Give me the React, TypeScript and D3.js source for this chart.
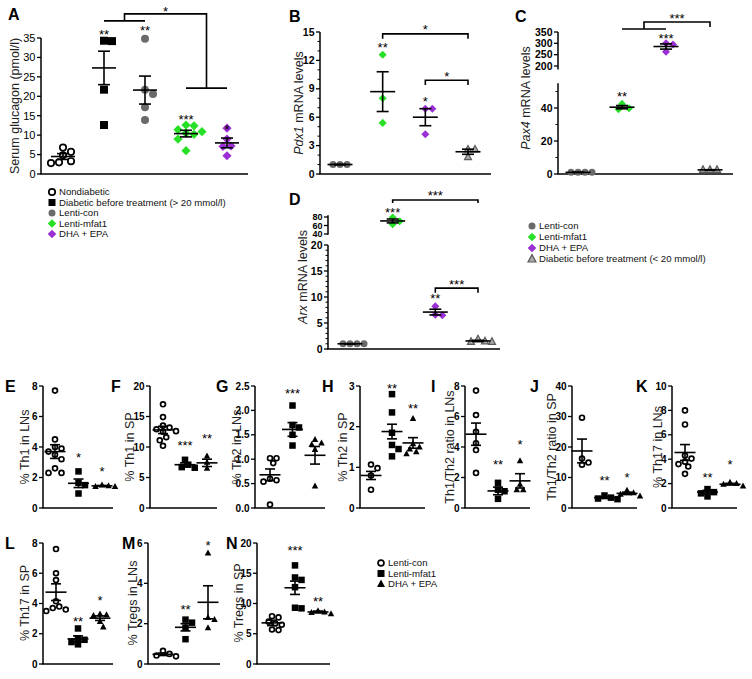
import React from "react";
import * as d3 from "d3";

const FONT = "Arial, 'Liberation Sans', Helvetica, sans-serif";

// ---------------- DATA ----------------
// Panel A
const aGroups = ["Nondiabetic", "Diabetic before treatment (> 20 mmol/l)", "Lenti-con", "Lenti-mfat1", "DHA + EPA"];
const aPoints = [
  [6.8, 5.7, 4.8, 3.0, 2.8, 3.3],
  [34.3, 34.2, 21.7, 12.6],
  [34.8, 21.7, 20.6, 17.2, 13.9],
  [12.6, 12.4, 11.4, 10.9, 10.5, 10.2, 9.0, 6.0],
  [11.8, 9.0, 7.2, 7.1, 4.7],
];
const aMean = [4.5, 27.3, 21.6, 10.4, 8.0];
const aSem = [0.75, 4.3, 3.6, 0.85, 1.25];
const aStars = ["", "**", "**", "***", "*"];
const aStarY = [0, 36.6, 37.6, 14.6, 12.2];
const aTicks = [0, 5, 10, 15, 20, 25, 30, 35];

// Panels B-D
const bdGroups = ["Lenti-con", "Lenti-mfat1", "DHA + EPA", "Diabetic before treatment (< 20 mmol/l)"];
const bPoints = [[1.0, 1.0, 1.0], [12.6, 8.0, 5.4], [6.9, 6.9, 4.2], [2.6, 2.6, 1.8]];
const bMean = [1.0, 8.7, 6.0, 2.35];
const bSem = [0.03, 2.1, 0.9, 0.27];
const bStars = ["", "**", "*", ""];
const bStarY = [0, 13.6, 7.9, 0];
const bTicks = [0, 3, 6, 9, 12, 15];

const cPoints = [[1.0, 1.0, 1.0, 1.0], [42.5, 39.8, 39.2], [300, 295, 263], [2.6, 2.6, 2.6]];
const cMean = [1.0, 40.5, 286, 2.5];
const cSem = [0.1, 1.0, 11.5, 0.1];
const cStars = ["", "**", "***", ""];
const cStarY = [0, 48.4, 333, 0];
const cTicks = [0, 20, 40, 200, 250, 300, 350];

const dPoints = [[1.0, 1.0, 1.0, 1.0], [79, 70, 63], [8.2, 6.6, 6.5], [1.9, 1.4, 1.4, 1.5]];
const dMean = [1.0, 70.7, 7.1, 1.55];
const dSem = [0.03, 4.6, 0.55, 0.12];
const dStars = ["", "***", "**", ""];
const dStarY = [0, 97, 10.2, 0];
const dTicks = [0, 5, 10, 15, 20, 40, 60, 80];

// Panels E-N
const rowGroups = ["Lenti-con", "Lenti-mfat1", "DHA + EPA"];
const ePoints = [[7.7, 4.5, 4.0, 3.9, 3.7, 3.5, 3.2, 2.6, 2.3, 2.3], [2.4, 1.65, 1.5, 0.95], [1.5, 1.45, 1.4, 1.4]];
const eMean = [3.7, 1.62, 1.45];
const eSem = [0.45, 0.28, 0.03];
const eStars = ["", "*", "*"];
const eStarY = [0, 3.45, 2.55];

const fPoints = [[17.0, 14.9, 13.5, 13.2, 12.9, 12.6, 12.5, 11.6, 11.1, 10.2], [7.9, 7.1, 6.7, 6.6], [8.5, 7.5, 6.5]];
const fMean = [12.8, 7.1, 7.4];
const fSem = [0.6, 0.3, 0.6];
const fStars = ["", "***", "**"];
const fStarY = [0, 10.6, 11.8];

const gPoints = [[1.02, 1.02, 0.92, 0.6, 0.57, 0.54, 0.07], [2.1, 1.7, 1.65, 1.5, 1.28], [1.4, 1.33, 1.3, 1.2, 0.45]];
const gMean = [0.68, 1.61, 1.08];
const gSem = [0.12, 0.14, 0.18];
const gStars = ["", "***", ""];
const gStarY = [0, 2.4, 0];

const hPoints = [[1.07, 0.98, 0.8, 0.45], [2.8, 2.35, 1.85, 1.55, 1.45, 1.27], [2.2, 1.58, 1.5, 1.45, 1.38, 1.33]];
const hMean = [0.8, 1.88, 1.6];
const hSem = [0.1, 0.18, 0.13];
const hStars = ["", "**", "**"];
const hStarY = [0, 3.0, 2.5];

const iPoints = [[7.7, 6.1, 5.0, 4.25, 3.8, 2.3], [1.65, 1.2, 1.1, 0.6], [3.1, 1.55, 1.2, 1.2]];
const iMean = [4.84, 1.12, 1.78];
const iSem = [0.73, 0.25, 0.47];
const iStars = ["", "**", "*"];
const iStarY = [0, 3.0, 4.3];

const jPoints = [[29.6, 16.2, 14.9, 14.2], [4.1, 3.4, 3.1, 2.9], [5.8, 5.0, 4.5, 3.9]];
const jMean = [18.7, 3.4, 4.8];
const jSem = [3.9, 0.3, 0.4];
const jStars = ["", "**", "*"];
const jStarY = [0, 9.8, 10.9];

const kPoints = [[8.0, 6.85, 4.3, 4.05, 3.8, 3.6, 3.4, 2.8], [1.55, 1.3, 1.2, 0.95], [2.1, 2.0, 1.95, 1.8]];
const kMean = [4.55, 1.3, 1.95];
const kSem = [0.65, 0.15, 0.07];
const kStars = ["", "**", "*"];
const kStarY = [0, 2.74, 3.8];

const lPoints = [[7.6, 6.0, 5.55, 4.15, 3.8, 3.7, 3.6, 3.5], [2.35, 1.7, 1.6, 1.45, 1.3], [3.3, 3.25, 3.2, 2.8, 2.45]];
const lMean = [4.75, 1.66, 3.03];
const lSem = [0.55, 0.2, 0.15];
const lStars = ["", "**", "*"];
const lStarY = [0, 2.96, 4.35];

const mPoints = [[0.65, 0.5, 0.42, 0.38], [2.2, 2.05, 1.8, 1.23], [5.5, 2.3, 2.2, 1.8]];
const mMean = [0.48, 1.82, 3.06];
const mSem = [0.06, 0.18, 0.82];
const mStars = ["", "**", "*"];
const mStarY = [0, 2.84, 5.98];

const nPoints = [[7.9, 7.7, 7.0, 6.7, 6.5, 5.7, 5.6], [16.3, 14.3, 13.9, 12.7, 9.3, 9.2], [8.8, 8.6, 8.5, 8.3]];
const nMean = [6.8, 12.6, 8.6];
const nSem = [0.45, 1.1, 0.15];
const nStars = ["", "***", "**"];
const nStarY = [0, 19.1, 10.7];

// ---------------- HELPERS ----------------
type Shape = "circleOpen" | "circleGray" | "square" | "diamondGreen" | "diamondPurple" | "triangleGray" | "triangle";

const GREEN = "#27e027";
const PURPLE = "#9b2fd3";

function Marker({ shape, x, y, s }: { shape: Shape; x: number; y: number; s: number }) {
  const h = s / 2;
  switch (shape) {
    case "circleOpen":
      return <circle cx={x} cy={y} r={h - 0.8} fill="white" stroke="#000" strokeWidth={1.7} />;
    case "circleGray":
      return <circle cx={x} cy={y} r={h} fill="#6a6a6a" />;
    case "square":
      return <rect x={x - h} y={y - h} width={s} height={s} fill="#000" />;
    case "diamondGreen":
    case "diamondPurple":
      return (
        <path
          d={`M${x},${y - h * 1.15}L${x + h * 1.15},${y}L${x},${y + h * 1.15}L${x - h * 1.15},${y}Z`}
          fill={shape === "diamondGreen" ? GREEN : PURPLE}
        />
      );
    case "triangleGray":
      return (
        <path
          d={`M${x},${y - h * 1.1}L${x + h},${y + h * 0.75}L${x - h},${y + h * 0.75}Z`}
          fill="#a9a9a9"
          stroke="#5a5a5a"
          strokeWidth={1.2}
        />
      );
    case "triangle":
      return <path d={`M${x},${y - h * 1.1}L${x + h},${y + h * 0.75}L${x - h},${y + h * 0.75}Z`} fill="#000" />;
  }
  return null;
}

function swarm(vals: number[], y: (v: number) => number, d: number): number[] {
  const order = vals.map((_, i) => i).sort((a, b) => vals[b] - vals[a]);
  const placed: { x: number; y: number }[] = [];
  const off = new Array(vals.length).fill(0);
  for (const i of order) {
    const py = y(vals[i]);
    let chosen = 0;
    for (let k = 0; k < 30; k++) {
      const step = Math.ceil(k / 2) * 0.5 * d;
      const cand = k === 0 ? 0 : k % 2 === 1 ? step : -step;
      const ok = placed.every((p) => Math.hypot(p.x - cand, p.y - py) >= d * 0.9);
      if (ok) {
        chosen = cand;
        break;
      }
    }
    placed.push({ x: chosen, y: py });
    off[i] = chosen;
  }
  return off;
}

type PanelProps = {
  letter: string;
  lx: number;
  ly: number;
  axisX: number;
  xEnd: number;
  y: (v: number) => number;
  segments: [number, number][];
  ticks: number[];
  tickFmt?: (v: number) => string;
  tickFsFn?: (v: number) => number;
  minors?: number[];
  gx: [number, number];
  groups: string[];
  shapes: Shape[];
  points: number[][];
  means: number[];
  sems: number[];
  stars: string[];
  starY: number[];
  ylabel: React.ReactNode;
  ylx: number;
  yly: number;
  ms: number;
  meanW: number;
  capW: number;
  tickFs: number;
  tickWeight?: string;
  labelFs: number;
  extra?: (xs: number[]) => React.ReactNode;
};

function Panel(p: PanelProps) {
  const xScale = d3.scalePoint<string>().domain(p.groups).range(p.gx);
  const xs = p.groups.map((g) => xScale(g) as number);
  const base = p.y(0);
  const fmt = p.tickFmt || ((v: number) => String(v));
  return (
    <g>
      <text x={p.lx} y={p.ly} fontFamily={FONT} fontWeight="bold" fontSize={16}>
        {p.letter}
      </text>
      {p.segments.map(([a, b], i) => (
        <line key={"s" + i} x1={p.axisX} x2={p.axisX} y1={p.y(a)} y2={p.y(b)} stroke="#000" strokeWidth={1.5} />
      ))}
      <line x1={p.axisX - 0.75} x2={p.xEnd} y1={base} y2={base} stroke="#000" strokeWidth={1.5} />
      {p.ticks.map((t) => (
        <g key={"t" + t}>
          <line x1={p.axisX - 4} x2={p.axisX} y1={p.y(t)} y2={p.y(t)} stroke="#000" strokeWidth={1.3} />
          <text
            x={p.axisX - 5.5}
            y={p.y(t)}
            dy="0.35em"
            textAnchor="end"
            fontFamily={FONT}
            fontWeight={p.tickWeight || "bold"}
            fontSize={p.tickFsFn ? p.tickFsFn(t) : p.tickFs}
          >
            {fmt(t)}
          </text>
        </g>
      ))}
      {(p.minors || []).map((t) => (
        <line key={"m" + t} x1={p.axisX - 2.5} x2={p.axisX} y1={p.y(t)} y2={p.y(t)} stroke="#000" strokeWidth={1} />
      ))}
      <text
        transform={`translate(${p.ylx},${p.yly}) rotate(-90)`}
        textAnchor="middle"
        dy="0.35em"
        fontFamily={FONT}
        fontSize={p.labelFs}
        fill="#222"
      >
        {p.ylabel}
      </text>
      {p.points.map((vals, gi) => {
        const offs = swarm(vals, p.y, p.ms);
        return vals.map((v, i) => (
          <Marker key={`p${gi}-${i}`} shape={p.shapes[gi]} x={xs[gi] + offs[i]} y={p.y(v)} s={p.ms} />
        ));
      })}
      {p.means.map((m, gi) => {
        const x = xs[gi];
        const hi = p.y(m + p.sems[gi]);
        const lo = p.y(m - p.sems[gi]);
        return (
          <g key={"e" + gi} stroke="#000" strokeWidth={1.6}>
            <line x1={x - p.meanW / 2} x2={x + p.meanW / 2} y1={p.y(m)} y2={p.y(m)} />
            <line x1={x} x2={x} y1={hi} y2={lo} />
            <line x1={x - p.capW / 2} x2={x + p.capW / 2} y1={hi} y2={hi} />
            <line x1={x - p.capW / 2} x2={x + p.capW / 2} y1={lo} y2={lo} />
          </g>
        );
      })}
      {p.stars.map((s, gi) =>
        s ? (
          <text key={"st" + gi} x={xs[gi]} y={p.y(p.starY[gi]) + 7} textAnchor="middle" fontFamily={FONT} fontSize={13}>
            {s}
          </text>
        ) : null
      )}
      {p.extra ? p.extra(xs) : null}
    </g>
  );
}

function Star({ x, y, s }: { x: number; y: number; s: string }) {
  return (
    <text x={x} y={y + 7} textAnchor="middle" fontFamily={FONT} fontSize={13}>
      {s}
    </text>
  );
}

function Legend({ x, ys, shapes, labels, sizes }: { x: number; ys: number[]; shapes: Shape[]; labels: string[]; sizes: number[] }) {
  return (
    <g>
      {labels.map((l, i) => (
        <g key={l}>
          <Marker shape={shapes[i]} x={x} y={ys[i]} s={sizes[i]} />
          <text x={x + 7} y={ys[i]} dy="0.35em" fontFamily={FONT} fontSize={9.6} fill="#111">
            {l}
          </text>
        </g>
      ))}
    </g>
  );
}

// --------------- APP ---------------
export default function App() {
  const yA = d3.scaleLinear().domain([0, 35]).range([174, 38]);
  const yB = d3.scaleLinear().domain([0, 15]).range([174, 32]);
  const cLow = d3.scaleLinear().domain([0, 20]).range([174, 141]);
  const cUp = d3.scaleLinear().domain([200, 350]).range([66, 32]);
  const yC = (v: number) => (v < 120 ? cLow(v) : cUp(v));
  const dLow = d3.scaleLinear().domain([0, 20]).range([349, 245]);
  const dUp = d3.scaleLinear().domain([40, 80]).range([234, 217]);
  const yD = (v: number) => (v < 30 ? dLow(v) : dUp(v));

  const r1 = [508, 386];
  const r2 = [664, 543];
  const rowShapes: Shape[] = ["circleOpen", "square", "triangle"];
  const bdShapes: Shape[] = ["circleGray", "diamondGreen", "diamondPurple", "triangleGray"];

  const common = {
    groups: rowGroups,
    shapes: rowShapes,
    ms: 6.5,
    meanW: 21,
    capW: 10,
    tickFs: 10,
    labelFs: 12.5,
  };

  const rowPanels: (Omit<PanelProps, "groups" | "shapes" | "ms" | "meanW" | "capW" | "tickFs" | "labelFs">)[] = [
    {
      letter: "E", lx: 5, ly: 392, axisX: 43, xEnd: 113, y: d3.scaleLinear().domain([0, 8]).range(r1),
      segments: [[0, 8]], ticks: [0, 2, 4, 6, 8], gx: [55, 102], points: ePoints, means: eMean, sems: eSem,
      stars: eStars, starY: eStarY, ylabel: "% Th1 in LNs", ylx: 25, yly: 447,
    },
    {
      letter: "F", lx: 111, ly: 392, axisX: 150, xEnd: 217, y: d3.scaleLinear().domain([0, 20]).range(r1),
      segments: [[0, 20]], ticks: [0, 5, 10, 15, 20], gx: [163, 207], points: fPoints, means: fMean, sems: fSem,
      stars: fStars, starY: fStarY, ylabel: "% Th1 in SP", ylx: 130, yly: 447,
    },
    {
      letter: "G", lx: 216, ly: 392, axisX: 255, xEnd: 325, y: d3.scaleLinear().domain([0, 2.5]).range(r1),
      segments: [[0, 2.5]], ticks: [0, 0.5, 1, 1.5, 2, 2.5], tickFmt: (v) => v.toFixed(1), gx: [270, 315],
      points: gPoints, means: gMean, sems: gSem, stars: gStars, starY: gStarY, ylabel: "% Th2 in LNs", ylx: 237, yly: 447,
    },
    {
      letter: "H", lx: 322, ly: 392, axisX: 360, xEnd: 425, y: d3.scaleLinear().domain([0, 3]).range(r1),
      segments: [[0, 3]], ticks: [0, 1, 2, 3], gx: [371, 413], points: hPoints, means: hMean, sems: hSem,
      stars: hStars, starY: hStarY, ylabel: "% Th2 in SP", ylx: 343, yly: 447,
    },
    {
      letter: "I", lx: 431, ly: 392, axisX: 465, xEnd: 530, y: d3.scaleLinear().domain([0, 8]).range(r1),
      segments: [[0, 8]], ticks: [0, 2, 4, 6, 8], gx: [476, 520], points: iPoints, means: iMean, sems: iSem,
      stars: iStars, starY: iStarY, ylabel: "Th1/Th2 ratio in LNs", ylx: 450, yly: 447,
    },
    {
      letter: "J", lx: 530, ly: 392, axisX: 572, xEnd: 637, y: d3.scaleLinear().domain([0, 40]).range(r1),
      segments: [[0, 40]], ticks: [0, 10, 20, 30, 40], gx: [582, 627], points: jPoints, means: jMean, sems: jSem,
      stars: jStars, starY: jStarY, ylabel: "Th1/Th2 ratio in SP", ylx: 552, yly: 447,
    },
    {
      letter: "K", lx: 636, ly: 392, axisX: 672, xEnd: 737, y: d3.scaleLinear().domain([0, 10]).range(r1),
      segments: [[0, 10]], ticks: [0, 2, 4, 6, 8, 10], gx: [685, 730], points: kPoints, means: kMean, sems: kSem,
      stars: kStars, starY: kStarY, ylabel: "% Th17 in LNs", ylx: 658, yly: 447,
    },
    {
      letter: "L", lx: 5, ly: 549, axisX: 43, xEnd: 113, y: d3.scaleLinear().domain([0, 8]).range(r2),
      segments: [[0, 8]], ticks: [0, 2, 4, 6, 8], gx: [56, 100], points: lPoints, means: lMean, sems: lSem,
      stars: lStars, starY: lStarY, ylabel: "% Th17 in SP", ylx: 25, yly: 603,
    },
    {
      letter: "M", lx: 122, ly: 549, axisX: 148, xEnd: 220, y: d3.scaleLinear().domain([0, 6]).range(r2),
      segments: [[0, 6]], ticks: [0, 2, 4, 6], gx: [163, 208], points: mPoints, means: mMean, sems: mSem,
      stars: mStars, starY: mStarY, ylabel: "% Tregs in LNs", ylx: 133, yly: 603,
    },
    {
      letter: "N", lx: 226, ly: 549, axisX: 257, xEnd: 330, y: d3.scaleLinear().domain([0, 20]).range(r2),
      segments: [[0, 20]], ticks: [0, 5, 10, 15, 20], gx: [272, 318], points: nPoints, means: nMean, sems: nSem,
      stars: nStars, starY: nStarY, ylabel: "% Tregs in SP", ylx: 239, yly: 603,
    },
  ];

  const range = (a: number, b: number, s: number, skip: number) =>
    d3.range(a, b + 0.001, s).filter((v) => Math.abs(v / skip - Math.round(v / skip)) > 1e-6);

  return (
    <svg width={752} height={679} style={{ position: "absolute", left: 0, top: 0, background: "#fff" }}>
      <rect width={752} height={679} fill="#fff" />
      {/* Panel A */}
      <Panel
        letter="A" lx={8} ly={20} axisX={41} xEnd={248} y={yA} segments={[[0, 35]]} ticks={aTicks}
        gx={[63, 227]} groups={aGroups}
        shapes={["circleOpen", "square", "circleGray", "diamondGreen", "diamondPurple"]}
        points={aPoints} means={aMean} sems={aSem} stars={aStars} starY={aStarY}
        ylabel="Serum glucagon (pmol/l)" ylx={15} yly={106} ms={8} meanW={24} capW={12} tickFs={11}
        tickWeight="normal" labelFs={12.5}
        extra={(xs) => {
          const m12 = (xs[1] + xs[2]) / 2;
          const m34 = (xs[3] + xs[4]) / 2;
          return (
            <g>
              <path
                d={`M${xs[1]},${yA(39.4)}H${xs[2]}M${m12},${yA(39.4)}V${yA(41.2)}H${m34}V${yA(22.1)}M${xs[3]},${yA(22.1)}H${xs[4]}`}
                fill="none" stroke="#000" strokeWidth={1.6}
              />
              <Star x={(m12 + m34) / 2} y={yA(42.4)} s="*" />
            </g>
          );
        }}
      />
      <Legend
        x={52} ys={[192, 202.5, 213, 223.5, 234]}
        shapes={["circleOpen", "square", "circleGray", "diamondGreen", "diamondPurple"]}
        labels={aGroups} sizes={[8, 7, 7, 7.5, 7.5]}
      />

      {/* Panel B */}
      <Panel
        letter="B" lx={289} ly={22} axisX={320} xEnd={491} y={yB} segments={[[0, 15]]} ticks={bTicks}
        minors={range(0, 15, 1, 3)} gx={[340, 468]} groups={bdGroups} shapes={bdShapes}
        points={bPoints} means={bMean} sems={bSem} stars={bStars} starY={bStarY}
        ylabel={<><tspan fontStyle="italic">Pdx1</tspan> mRNA levels</>} ylx={299} yly={103}
        ms={7} meanW={25} capW={12} tickFs={10.5} labelFs={12.5}
        extra={(xs) => (
          <g>
            <path
              d={`M${xs[1]},${yB(14.3)}V${yB(14.8)}H${xs[3]}V${yB(14.3)}M${xs[2]},${yB(9.4)}V${yB(9.9)}H${xs[3]}V${yB(9.4)}`}
              fill="none" stroke="#000" strokeWidth={1.6}
            />
            <Star x={(xs[1] + xs[3]) / 2} y={yB(15.5)} s="*" />
            <Star x={(xs[2] + xs[3]) / 2} y={yB(10.6)} s="*" />
          </g>
        )}
      />

      {/* Panel C */}
      <Panel
        letter="C" lx={515} ly={22} axisX={558} xEnd={733} y={yC} segments={[[0, 55], [185, 350]]} ticks={cTicks}
        minors={[10, 30, 50]} gx={[578, 710]} groups={bdGroups} shapes={bdShapes}
        points={cPoints} means={cMean} sems={cSem} stars={cStars} starY={cStarY}
        ylabel={<><tspan fontStyle="italic">Pax4</tspan> mRNA levels</>} ylx={526} yly={98}
        ms={7} meanW={25} capW={12} tickFs={10.5} labelFs={12.5}
        extra={(xs) => {
          const m = (xs[1] + xs[2]) / 2;
          return (
            <g>
              <path
                d={`M${xs[1]},${yC(363)}H${xs[2]}M${m},${yC(363)}V${yC(394)}H${xs[3]}V${yC(372)}`}
                fill="none" stroke="#000" strokeWidth={1.6}
              />
              <Star x={(m + xs[3]) / 2} y={yC(420)} s="***" />
            </g>
          );
        }}
      />

      {/* Panel D */}
      <Panel
        letter="D" lx={289} ly={205} axisX={328} xEnd={500} y={yD} segments={[[0, 20], [38, 84]]} ticks={dTicks}
        tickFsFn={(v) => (v >= 40 ? 9 : 10.5)}
        minors={range(0, 20, 1, 5)} gx={[350, 478]} groups={bdGroups} shapes={bdShapes}
        points={dPoints} means={dMean} sems={dSem} stars={dStars} starY={dStarY}
        ylabel={<><tspan fontStyle="italic">Arx</tspan> mRNA levels</>} ylx={303} yly={277}
        ms={7} meanW={25} capW={12} tickFs={10.5} labelFs={12.5}
        extra={(xs) => (
          <g>
            <path
              d={`M${xs[1]},${yD(113)}V${yD(120)}H${xs[3]}V${yD(113)}M${xs[2]},${yD(10.8)}V${yD(11.7)}H${xs[3]}V${yD(10.8)}`}
              fill="none" stroke="#000" strokeWidth={1.6}
            />
            <Star x={(xs[1] + xs[3]) / 2} y={yD(137)} s="***" />
            <Star x={(xs[2] + xs[3]) / 2} y={yD(12.9)} s="***" />
          </g>
        )}
      />
      <Legend x={532} ys={[226, 237, 248, 259]} shapes={bdShapes} labels={bdGroups} sizes={[7, 7.5, 7.5, 8]} />

      {/* Panels E-N */}
      {rowPanels.map((rp) => (
        <Panel key={rp.letter} {...common} {...rp} />
      ))}
      <Legend x={381} ys={[563, 573.5, 584]} shapes={rowShapes} labels={rowGroups} sizes={[7.5, 7, 8]} />
    </svg>
  );
}
